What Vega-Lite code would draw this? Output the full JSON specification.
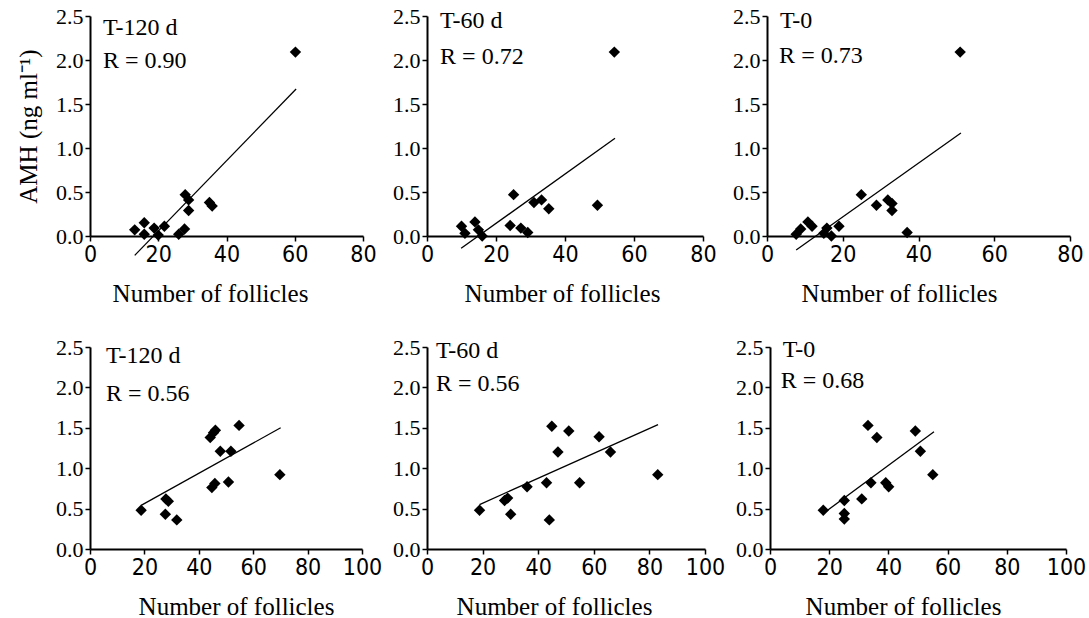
{
  "$schema": "https://vega.github.io/schema/vega-lite/v6.json",
  "background": "white",
  "padding": {"left": 16, "top": 5, "right": 2, "bottom": 5},
  "config": {
    "font": "Liberation Serif",
    "view": {"stroke": null},
    "axis": {"domainColor": "black", "domainWidth": 2, "tickColor": "black", "tickWidth": 1.5, "tickSize": 5, "grid": false, "labelColor": "black", "titleColor": "black", "titleFont": "Liberation Serif", "titleFontWeight": "normal", "titleFontSize": 25},
    "axisX": {"labelFont": "DejaVu Sans Condensed, Liberation Sans Narrow, Liberation Sans", "labelFontSize": 23, "labelPadding": 2, "titlePadding": 15, "labelFlush": false, "titleAnchor": "start", "titleAlign": "center"},
    "axisY": {"labelFont": "Liberation Serif", "labelFontSize": 22, "labelPadding": 2, "titlePadding": 14}
  },
  "datasets": {
    "pts": [
      {"panel": "A", "x": 13.1, "y": 0.07}, {"panel": "A", "x": 15.9, "y": 0.15}, {"panel": "A", "x": 15.9, "y": 0.02}, {"panel": "A", "x": 18.8, "y": 0.09}, {"panel": "A", "x": 20.0, "y": 0.01}, {"panel": "A", "x": 21.8, "y": 0.11}, {"panel": "A", "x": 26.0, "y": 0.02}, {"panel": "A", "x": 27.7, "y": 0.08}, {"panel": "A", "x": 27.9, "y": 0.47}, {"panel": "A", "x": 28.9, "y": 0.41}, {"panel": "A", "x": 28.9, "y": 0.29}, {"panel": "A", "x": 35.0, "y": 0.38}, {"panel": "A", "x": 35.8, "y": 0.34}, {"panel": "A", "x": 60.2, "y": 2.09},
      {"panel": "B", "x": 10.0, "y": 0.11}, {"panel": "B", "x": 11.0, "y": 0.03}, {"panel": "B", "x": 13.9, "y": 0.16}, {"panel": "B", "x": 14.9, "y": 0.07}, {"panel": "B", "x": 16.0, "y": 0.0}, {"panel": "B", "x": 24.1, "y": 0.12}, {"panel": "B", "x": 25.1, "y": 0.47}, {"panel": "B", "x": 27.2, "y": 0.09}, {"panel": "B", "x": 29.2, "y": 0.04}, {"panel": "B", "x": 31.0, "y": 0.38}, {"panel": "B", "x": 33.2, "y": 0.41}, {"panel": "B", "x": 35.3, "y": 0.31}, {"panel": "B", "x": 49.4, "y": 0.35}, {"panel": "B", "x": 54.3, "y": 2.09},
      {"panel": "C", "x": 7.7, "y": 0.02}, {"panel": "C", "x": 8.9, "y": 0.08}, {"panel": "C", "x": 10.8, "y": 0.16}, {"panel": "C", "x": 11.9, "y": 0.11}, {"panel": "C", "x": 15.0, "y": 0.03}, {"panel": "C", "x": 15.8, "y": 0.09}, {"panel": "C", "x": 17.0, "y": 0.0}, {"panel": "C", "x": 19.0, "y": 0.11}, {"panel": "C", "x": 24.9, "y": 0.47}, {"panel": "C", "x": 28.9, "y": 0.35}, {"panel": "C", "x": 31.9, "y": 0.41}, {"panel": "C", "x": 33.0, "y": 0.37}, {"panel": "C", "x": 33.0, "y": 0.29}, {"panel": "C", "x": 37.0, "y": 0.04}, {"panel": "C", "x": 51.0, "y": 2.09},
      {"panel": "D", "x": 18.8, "y": 0.48}, {"panel": "D", "x": 27.9, "y": 0.62}, {"panel": "D", "x": 28.8, "y": 0.59}, {"panel": "D", "x": 27.7, "y": 0.43}, {"panel": "D", "x": 31.9, "y": 0.36}, {"panel": "D", "x": 44.2, "y": 1.38}, {"panel": "D", "x": 45.4, "y": 1.44}, {"panel": "D", "x": 46.1, "y": 1.47}, {"panel": "D", "x": 44.8, "y": 0.76}, {"panel": "D", "x": 45.9, "y": 0.81}, {"panel": "D", "x": 47.9, "y": 1.21}, {"panel": "D", "x": 50.9, "y": 0.83}, {"panel": "D", "x": 51.8, "y": 1.21}, {"panel": "D", "x": 54.8, "y": 1.53}, {"panel": "D", "x": 69.8, "y": 0.92},
      {"panel": "E", "x": 18.9, "y": 0.48}, {"panel": "E", "x": 27.9, "y": 0.60}, {"panel": "E", "x": 29.0, "y": 0.63}, {"panel": "E", "x": 30.1, "y": 0.43}, {"panel": "E", "x": 36.0, "y": 0.77}, {"panel": "E", "x": 43.0, "y": 0.82}, {"panel": "E", "x": 44.0, "y": 0.36}, {"panel": "E", "x": 44.9, "y": 1.52}, {"panel": "E", "x": 47.1, "y": 1.20}, {"panel": "E", "x": 51.0, "y": 1.46}, {"panel": "E", "x": 54.9, "y": 0.82}, {"panel": "E", "x": 61.9, "y": 1.39}, {"panel": "E", "x": 66.0, "y": 1.20}, {"panel": "E", "x": 83.0, "y": 0.92},
      {"panel": "F", "x": 18.0, "y": 0.48}, {"panel": "F", "x": 25.1, "y": 0.60}, {"panel": "F", "x": 25.1, "y": 0.44}, {"panel": "F", "x": 25.1, "y": 0.37}, {"panel": "F", "x": 31.0, "y": 0.62}, {"panel": "F", "x": 33.1, "y": 1.53}, {"panel": "F", "x": 34.1, "y": 0.82}, {"panel": "F", "x": 36.1, "y": 1.38}, {"panel": "F", "x": 39.1, "y": 0.82}, {"panel": "F", "x": 40.1, "y": 0.77}, {"panel": "F", "x": 49.1, "y": 1.46}, {"panel": "F", "x": 50.8, "y": 1.21}, {"panel": "F", "x": 55.0, "y": 0.92}
    ],
    "lines": [
      {"panel": "A", "x": 13.1, "y": -0.22}, {"panel": "A", "x": 60.4, "y": 1.67},
      {"panel": "B", "x": 9.9, "y": -0.14}, {"panel": "B", "x": 54.5, "y": 1.11},
      {"panel": "C", "x": 7.7, "y": -0.16}, {"panel": "C", "x": 51.2, "y": 1.17},
      {"panel": "D", "x": 18.8, "y": 0.54}, {"panel": "D", "x": 70.1, "y": 1.50},
      {"panel": "E", "x": 18.9, "y": 0.55}, {"panel": "E", "x": 83.1, "y": 1.54},
      {"panel": "F", "x": 19.1, "y": 0.47}, {"panel": "F", "x": 55.4, "y": 1.45}
    ],
    "labels": [
      {"panel": "A", "label": "T-120 d", "x": 3.8, "y": 2.28}, {"panel": "A", "label": "R = 0.90", "x": 3.8, "y": 1.91},
      {"panel": "B", "label": "T-60 d", "x": 3.8, "y": 2.36}, {"panel": "B", "label": "R = 0.72", "x": 3.8, "y": 1.96},
      {"panel": "C", "label": "T-0", "x": 3.4, "y": 2.36}, {"panel": "C", "label": "R = 0.73", "x": 3.2, "y": 1.97},
      {"panel": "D", "label": "T-120 d", "x": 5.9, "y": 2.30}, {"panel": "D", "label": "R = 0.56", "x": 5.9, "y": 1.83},
      {"panel": "E", "label": "T-60 d", "x": 3.2, "y": 2.36}, {"panel": "E", "label": "R = 0.56", "x": 3.2, "y": 1.95},
      {"panel": "F", "label": "T-0", "x": 4.3, "y": 2.38}, {"panel": "F", "label": "R = 0.68", "x": 3.6, "y": 1.99}
    ]
  },
  "spacing": 30,
  "vconcat": [
    {
      "bounds": "flush",
      "spacing": 64,
      "hconcat": [
        {
          "width": 273, "height": 220,
          "encoding": {
            "x": {"field": "x", "type": "quantitative", "scale": {"domain": [0, 80], "nice": false}, "axis": {"values": [0, 20, 40, 60, 80], "title": "Number of follicles", "titleX": 120}},
            "y": {"field": "y", "type": "quantitative", "scale": {"domain": [0, 2.5], "nice": false}, "axis": {"values": [0, 0.5, 1, 1.5, 2, 2.5], "format": ".1f", "title": "AMH (ng ml⁻¹)"}}
          },
          "layer": [
            {"data": {"name": "lines"}, "transform": [{"filter": "datum.panel === 'A'"}], "mark": {"type": "line", "color": "black", "strokeWidth": 1.3}},
            {"data": {"name": "pts"}, "transform": [{"filter": "datum.panel === 'A'"}], "mark": {"type": "point", "shape": "diamond", "filled": true, "color": "black", "opacity": 1, "size": 130}},
            {"data": {"name": "labels"}, "transform": [{"filter": "datum.panel === 'A'"}], "mark": {"type": "text", "align": "left", "baseline": "alphabetic", "font": "Liberation Serif", "fontSize": 24, "color": "black"}, "encoding": {"text": {"field": "label"}}}
          ]
        },
        {
          "width": 276, "height": 220,
          "encoding": {
            "x": {"field": "x", "type": "quantitative", "scale": {"domain": [0, 80], "nice": false}, "axis": {"values": [0, 20, 40, 60, 80], "title": "Number of follicles", "titleX": 135}},
            "y": {"field": "y", "type": "quantitative", "scale": {"domain": [0, 2.5], "nice": false}, "axis": {"values": [0, 0.5, 1, 1.5, 2, 2.5], "format": ".1f", "title": null}}
          },
          "layer": [
            {"data": {"name": "lines"}, "transform": [{"filter": "datum.panel === 'B'"}], "mark": {"type": "line", "color": "black", "strokeWidth": 1.3}},
            {"data": {"name": "pts"}, "transform": [{"filter": "datum.panel === 'B'"}], "mark": {"type": "point", "shape": "diamond", "filled": true, "color": "black", "opacity": 1, "size": 130}},
            {"data": {"name": "labels"}, "transform": [{"filter": "datum.panel === 'B'"}], "mark": {"type": "text", "align": "left", "baseline": "alphabetic", "font": "Liberation Serif", "fontSize": 24, "color": "black"}, "encoding": {"text": {"field": "label"}}}
          ]
        },
        {
          "width": 303, "height": 220,
          "encoding": {
            "x": {"field": "x", "type": "quantitative", "scale": {"domain": [0, 80], "nice": false}, "axis": {"values": [0, 20, 40, 60, 80], "title": "Number of follicles", "titleX": 132}},
            "y": {"field": "y", "type": "quantitative", "scale": {"domain": [0, 2.5], "nice": false}, "axis": {"values": [0, 0.5, 1, 1.5, 2, 2.5], "format": ".1f", "title": null}}
          },
          "layer": [
            {"data": {"name": "lines"}, "transform": [{"filter": "datum.panel === 'C'"}], "mark": {"type": "line", "color": "black", "strokeWidth": 1.3}},
            {"data": {"name": "pts"}, "transform": [{"filter": "datum.panel === 'C'"}], "mark": {"type": "point", "shape": "diamond", "filled": true, "color": "black", "opacity": 1, "size": 130}},
            {"data": {"name": "labels"}, "transform": [{"filter": "datum.panel === 'C'"}], "mark": {"type": "text", "align": "left", "baseline": "alphabetic", "font": "Liberation Serif", "fontSize": 24, "color": "black"}, "encoding": {"text": {"field": "label"}}}
          ]
        }
      ]
    },
    {
      "bounds": "flush",
      "spacing": 65,
      "hconcat": [
        {
          "width": 272, "height": 202,
          "encoding": {
            "x": {"field": "x", "type": "quantitative", "scale": {"domain": [0, 100], "nice": false}, "axis": {"values": [0, 20, 40, 60, 80, 100], "title": "Number of follicles", "titleX": 146}},
            "y": {"field": "y", "type": "quantitative", "scale": {"domain": [0, 2.5], "nice": false}, "axis": {"values": [0, 0.5, 1, 1.5, 2, 2.5], "format": ".1f", "title": null}}
          },
          "layer": [
            {"data": {"name": "lines"}, "transform": [{"filter": "datum.panel === 'D'"}], "mark": {"type": "line", "color": "black", "strokeWidth": 1.3}},
            {"data": {"name": "pts"}, "transform": [{"filter": "datum.panel === 'D'"}], "mark": {"type": "point", "shape": "diamond", "filled": true, "color": "black", "opacity": 1, "size": 130}},
            {"data": {"name": "labels"}, "transform": [{"filter": "datum.panel === 'D'"}], "mark": {"type": "text", "align": "left", "baseline": "alphabetic", "font": "Liberation Serif", "fontSize": 24, "color": "black"}, "encoding": {"text": {"field": "label"}}}
          ]
        },
        {
          "width": 278, "height": 202,
          "encoding": {
            "x": {"field": "x", "type": "quantitative", "scale": {"domain": [0, 100], "nice": false}, "axis": {"values": [0, 20, 40, 60, 80, 100], "title": "Number of follicles", "titleX": 127}},
            "y": {"field": "y", "type": "quantitative", "scale": {"domain": [0, 2.5], "nice": false}, "axis": {"values": [0, 0.5, 1, 1.5, 2, 2.5], "format": ".1f", "title": null}}
          },
          "layer": [
            {"data": {"name": "lines"}, "transform": [{"filter": "datum.panel === 'E'"}], "mark": {"type": "line", "color": "black", "strokeWidth": 1.3}},
            {"data": {"name": "pts"}, "transform": [{"filter": "datum.panel === 'E'"}], "mark": {"type": "point", "shape": "diamond", "filled": true, "color": "black", "opacity": 1, "size": 130}},
            {"data": {"name": "labels"}, "transform": [{"filter": "datum.panel === 'E'"}], "mark": {"type": "text", "align": "left", "baseline": "alphabetic", "font": "Liberation Serif", "fontSize": 24, "color": "black"}, "encoding": {"text": {"field": "label"}}}
          ]
        },
        {
          "width": 296, "height": 202,
          "encoding": {
            "x": {"field": "x", "type": "quantitative", "scale": {"domain": [0, 100], "nice": false}, "axis": {"values": [0, 20, 40, 60, 80, 100], "title": "Number of follicles", "titleX": 133}},
            "y": {"field": "y", "type": "quantitative", "scale": {"domain": [0, 2.5], "nice": false}, "axis": {"values": [0, 0.5, 1, 1.5, 2, 2.5], "format": ".1f", "title": null}}
          },
          "layer": [
            {"data": {"name": "lines"}, "transform": [{"filter": "datum.panel === 'F'"}], "mark": {"type": "line", "color": "black", "strokeWidth": 1.3}},
            {"data": {"name": "pts"}, "transform": [{"filter": "datum.panel === 'F'"}], "mark": {"type": "point", "shape": "diamond", "filled": true, "color": "black", "opacity": 1, "size": 130}},
            {"data": {"name": "labels"}, "transform": [{"filter": "datum.panel === 'F'"}], "mark": {"type": "text", "align": "left", "baseline": "alphabetic", "font": "Liberation Serif", "fontSize": 24, "color": "black"}, "encoding": {"text": {"field": "label"}}}
          ]
        }
      ]
    }
  ]
}
